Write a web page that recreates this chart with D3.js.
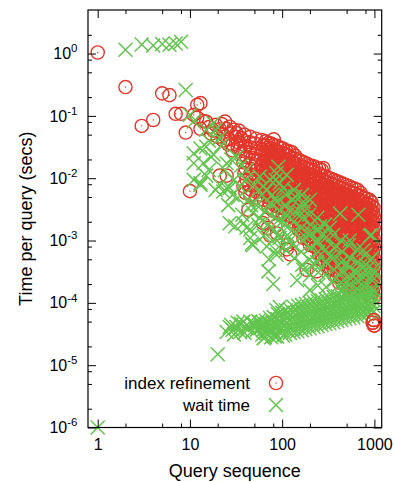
<!DOCTYPE html>
<html>
<head>
<meta charset="utf-8">
<script src="https://cdn.jsdelivr.net/npm/d3@7"></script>
<style>
  body { margin: 0; background: #fff; }
  text { font-family: "Liberation Sans", Arial, Helvetica, sans-serif; fill: #000; }
</style>
</head>
<body>
<div id="chart"></div>
<script>
// axis ticks
const xMajorTicks = [1, 10, 100, 1000];
const xMinorTicks = [2, 5, 8, 20, 50, 80, 200, 500, 800];
const yMajorTicks = [1e-6, 1e-5, 1e-4, 1e-3, 1e-2, 1e-1, 1];
const yMajorExponents = ['-6', '-5', '-4', '-3', '-2', '-1', '0'];
const yMinorTicks = [2e-6, 5e-6, 8e-6, 2e-5, 5e-5, 8e-5, 2e-4, 5e-4, 8e-4, 2e-3, 5e-3, 8e-3,
  2e-2, 5e-2, 8e-2, 0.2, 0.5, 0.8, 2];

const seriesNames = ['index refinement', 'wait time'];

// [query number, seconds]
const refinePoints = [
  [1,1.04],[2,0.29],[3,0.069],[4,0.086],[5,0.23],[6,0.215],[7,0.108],[8,0.108],[9,0.054],[10,0.0062],[11,0.104],[12,0.15],
  [12,0.094],[13,0.16],[13,0.062],[14,0.083],[15,0.081],[16,0.066],[17,0.052],[18,0.058],[19,0.072],[20,0.046],[21,0.061],[21,0.011],
  [22,0.074],[23,0.05],[23,0.04],[24,0.081],[25,0.062],[25,0.011],[26,0.042],[26,0.035],[27,0.067],[28,0.052],[29,0.035],[29,0.028],
  [30,0.06],[31,0.046],[32,0.053],[33,0.038],[33,0.031],[34,0.058],[35,0.03],[36,0.044],[37,0.024],
  [39,0.05],[38,0.04],[40,0.033],[39,0.027],[41,0.022],[38,0.018],[40,0.0145],[39,0.012],[41,0.0095],[38,0.0075],[40,0.0058],
  [45,0.046],[44,0.038],[46,0.031],[45,0.026],[47,0.021],[44,0.017],[46,0.014],[45,0.0115],[47,0.0094],[44,0.0078],[46,0.0065],[45,0.0054],[43,0.0031],
  [52,0.043],[51,0.036],[53,0.03],[52,0.024],[54,0.02],[51,0.016],[53,0.0135],[52,0.011],[54,0.0089],[51,0.0073],[53,0.006],[52,0.0049],
  [60,0.041],[62,0.034],[61,0.029],[59,0.024],[63,0.019],[60,0.016],[62,0.014],[61,0.011],[60,0.0092],[62,0.0079],[61,0.0065],[59,0.0054],[63,0.0045],
  [66,0.039],[66,0.033],[66,0.027],[66,0.023],[66,0.019],[66,0.0156],[66,0.013],[66,0.0108],[66,0.009],[66,0.0075],[66,0.0062],
  [71,0.037],[70,0.031],[72,0.026],[69,0.022],[71,0.018],[73,0.015],[70,0.012],[72,0.0101],[71,0.0085],[69,0.0072],[72,0.006],[70,0.0049],[73,0.0041],[71,0.0034],
  [76,0.036],[76,0.03],[76,0.025],[76,0.0206],[76,0.017],[76,0.0143],[76,0.0119],[76,0.0098],[76,0.0082],[76,0.0068],[76,0.0057],[76,0.0047],
  [81,0.042],[80,0.034],[83,0.028],[79,0.024],[82,0.02],[80,0.016],[84,0.014],[81,0.011],[79,0.0094],[83,0.0077],[80,0.0066],[82,0.0053],[81,0.0045],[84,0.0036],[80,0.003],
  [88,0.033],[88,0.027],[88,0.023],[88,0.019],[88,0.0156],[88,0.013],[88,0.0108],[88,0.009],[88,0.0075],[88,0.0062],[88,0.0052],[88,0.0043],[88,0.0036],
  [95,0.031],[93,0.026],[97,0.021],[94,0.018],[96,0.015],[92,0.012],[95,0.01],[98,0.0087],[93,0.007],[96,0.0059],[94,0.0049],[97,0.0041],[95,0.0034],[93,0.0028],
  [102,0.03],[102,0.025],[102,0.0206],[102,0.017],[102,0.0143],[102,0.0119],[102,0.0098],[102,0.0082],[102,0.0068],[102,0.0057],[102,0.0047],[102,0.0039],[102,0.0033],[102,0.0027],
  [110,0.028],[108,0.024],[112,0.02],[109,0.016],[111,0.014],[107,0.011],[113,0.0093],[110,0.0078],[108,0.0065],[112,0.0054],[109,0.0045],[111,0.0037],[110,0.0031],[108,0.0026],
  [119,0.027],[119,0.023],[119,0.019],[119,0.0156],[119,0.013],[119,0.0108],[119,0.009],[119,0.0075],[119,0.0062],[119,0.0052],[119,0.0043],[119,0.0036],[119,0.003],[119,0.0025],
  [128,0.026],[126,0.021],[130,0.018],[127,0.015],[131,0.012],[125,0.0102],[129,0.0086],[128,0.0071],[126,0.0059],[130,0.0049],[127,0.0041],[132,0.0034],[128,0.0028],[125,0.0024],[129,0.002],
  [138,0.023],[138,0.0206],[138,0.017],[138,0.0143],[138,0.0119],[138,0.0098],[138,0.0082],[138,0.0068],[138,0.0057],[138,0.0047],[138,0.0039],[138,0.0033],[138,0.0027],[138,0.0023],[138,0.0019],
  [149,0.02],[147,0.016],[151,0.014],[146,0.011],[152,0.0093],[148,0.0078],[150,0.0064],[147,0.0054],[153,0.0045],[149,0.0037],[146,0.0031],[151,0.0026],[148,0.0021],[152,0.0018],[150,0.0015],
  [160,0.0188],[160,0.0156],[160,0.013],[160,0.0108],[160,0.009],[160,0.0075],[160,0.0062],[160,0.0052],[160,0.0043],[160,0.0036],[160,0.003],[160,0.0025],[160,0.0021],[160,0.0017],[160,0.00142],
  [172,0.018],[170,0.015],[175,0.012],[169,0.0103],[174,0.0086],[171,0.0071],[168,0.0059],[173,0.0049],[170,0.0041],[176,0.0034],[172,0.0028],[169,0.0024],[174,0.002],[171,0.0016],[173,0.0014],[170,0.0011],
  [186,0.0171],[186,0.0143],[186,0.0119],[186,0.0098],[186,0.0082],[186,0.0068],[186,0.0057],[186,0.0047],[186,0.0039],[186,0.0033],[186,0.0027],[186,0.0023],[186,0.0019],[186,0.0016],[186,0.0013],[186,0.00108],
  [200,0.016],[197,0.014],[203,0.011],[199,0.0094],[204,0.0078],[196,0.0065],[201,0.0054],[198,0.0045],[205,0.0037],[200,0.0031],[197,0.0026],[202,0.0021],[199,0.0018],[203,0.0015],[198,0.0012],[201,0.001],[200,0.00085],
  [216,0.0156],[216,0.013],[216,0.0108],[216,0.009],[216,0.0075],[216,0.0062],[216,0.0052],[216,0.0043],[216,0.0036],[216,0.003],[216,0.0025],[216,0.0021],[216,0.0017],[216,0.00142],[216,0.00118],[216,0.00098],[216,0.00082],
  [232,0.015],[229,0.012],[235,0.01],[231,0.0086],[236,0.0071],[228,0.0059],[233,0.0049],[230,0.0041],[237,0.0034],[232,0.0028],[229,0.0024],[234,0.002],[231,0.0016],[235,0.0014],[230,0.0011],[233,0.00094],[231,0.00078],
  [251,0.0143],[251,0.0119],[251,0.0098],[251,0.0082],[251,0.0068],[251,0.0057],[251,0.0047],[251,0.0039],[251,0.0033],[251,0.0027],[251,0.0023],[251,0.0019],[251,0.0016],[251,0.0013],[251,0.00108],[251,0.0009],[251,0.00075],[251,0.00062],
  [280,0.0145],[269,0.0135],[266,0.011],[272,0.0094],[268,0.0078],[274,0.0065],[265,0.0054],[270,0.0045],[267,0.0037],[273,0.0031],[269,0.0026],[266,0.0021],[271,0.0018],[268,0.0015],[274,0.0012],[270,0.001],[267,0.00085],[272,0.00071],[269,0.00059],[271,0.00049],
  [290,0.0108],[290,0.009],[290,0.0075],[290,0.0062],[290,0.0052],[290,0.0043],[290,0.0036],[290,0.003],[290,0.0025],[290,0.0021],[290,0.0017],[290,0.00142],[290,0.00118],[290,0.00098],[290,0.00082],[290,0.00068],[290,0.00057],[290,0.00047],
  [312,0.0103],[309,0.0086],[315,0.0071],[310,0.0059],[316,0.0049],[308,0.0041],[313,0.0034],[311,0.0028],[317,0.0024],[309,0.002],[314,0.0016],[312,0.0014],[310,0.0011],[315,0.00094],[311,0.00078],[313,0.00065],[308,0.00054],[312,0.00045],[316,0.00037],
  [337,0.0098],[337,0.0082],[337,0.0068],[337,0.0057],[337,0.0047],[337,0.0039],[337,0.0033],[337,0.0027],[337,0.0023],[337,0.0019],[337,0.0016],[337,0.0013],[337,0.00108],[337,0.0009],[337,0.00075],[337,0.00062],[337,0.00052],[337,0.00043],[337,0.00036],
  [362,0.0094],[358,0.0078],[366,0.0065],[360,0.0054],[365,0.0045],[357,0.0037],[363,0.0031],[359,0.0026],[367,0.0021],[361,0.0018],[364,0.0015],[358,0.0012],[362,0.001],[366,0.00085],[360,0.00071],[363,0.00059],[359,0.00049],[365,0.00041],[361,0.00034],[364,0.00028],
  [390,0.009],[390,0.0075],[390,0.0062],[390,0.0052],[390,0.0043],[390,0.0036],[390,0.003],[390,0.0025],[390,0.0021],[390,0.0017],[390,0.00142],[390,0.00118],[390,0.00098],[390,0.00082],[390,0.00068],[390,0.00057],[390,0.00047],[390,0.00039],[390,0.00032],[390,0.00027],
  [420,0.0086],[415,0.0071],[425,0.0059],[418,0.0049],[423,0.0041],[413,0.0034],[421,0.0028],[417,0.0024],[426,0.002],[419,0.0016],[422,0.0014],[414,0.0011],[420,0.00094],[424,0.00078],[416,0.00065],[421,0.00054],[418,0.00045],[425,0.00037],[419,0.00031],[422,0.00026],[417,0.00021],
  [453,0.0082],[453,0.0068],[453,0.0057],[453,0.0047],[453,0.0039],[453,0.0033],[453,0.0027],[453,0.0023],[453,0.0019],[453,0.0016],[453,0.0013],[453,0.00108],[453,0.0009],[453,0.00075],[453,0.00062],[453,0.00052],[453,0.00043],[453,0.00036],[453,0.0003],[453,0.00025],[453,0.00021],
  [488,0.0078],[482,0.0065],[494,0.0054],[485,0.0045],[491,0.0037],[480,0.0031],[489,0.0026],[486,0.0021],[495,0.0018],[483,0.0015],[490,0.0012],[487,0.001],[492,0.00085],[481,0.00071],[489,0.00059],[485,0.00049],[493,0.00041],[484,0.00034],[490,0.00028],[487,0.00023],[491,0.00019],
  [526,0.0075],[526,0.0062],[526,0.0052],[526,0.0043],[526,0.0036],[526,0.003],[526,0.0025],[526,0.0021],[526,0.0017],[526,0.00142],[526,0.00118],[526,0.00098],[526,0.00082],[526,0.00068],[526,0.00057],[526,0.00047],[526,0.00039],[526,0.00032],[526,0.00027],[526,0.00022],[526,0.00019],
  [567,0.0071],[560,0.0059],[574,0.0049],[563,0.0041],[571,0.0034],[558,0.0028],[569,0.0024],[565,0.002],[576,0.0016],[561,0.0014],[570,0.0011],[566,0.00094],[573,0.00078],[559,0.00065],[568,0.00054],[564,0.00045],[572,0.00037],[562,0.00031],[569,0.00026],[566,0.00021],[571,0.00018],
  [611,0.0068],[611,0.0057],[611,0.0047],[611,0.0039],[611,0.0033],[611,0.0027],[611,0.0023],[611,0.0019],[611,0.0016],[611,0.0013],[611,0.00108],[611,0.0009],[611,0.00075],[611,0.00062],[611,0.00052],[611,0.00043],[611,0.00036],[611,0.0003],[611,0.00025],[611,0.00021],[611,0.00017],
  [657,0.0065],[650,0.0054],[665,0.0045],[653,0.0037],[661,0.0031],[647,0.0026],[659,0.0021],[655,0.0018],[668,0.0015],[651,0.0012],[662,0.001],[656,0.00085],[664,0.00071],[649,0.00059],[658,0.00049],[654,0.00041],[663,0.00034],[652,0.00028],[660,0.00023],[657,0.00019],[666,0.00016],
  [708,0.0058],[708,0.0052],[708,0.0043],[708,0.0036],[708,0.003],[708,0.0025],[708,0.0021],[708,0.0017],[708,0.00142],[708,0.00118],[708,0.00098],[708,0.00082],[708,0.00068],[708,0.00057],[708,0.00047],[708,0.00039],[708,0.00032],[708,0.00027],[708,0.00022],[708,0.00019],[708,0.000155],
  [762,0.0049],[754,0.0041],[770,0.0034],[758,0.0028],[766,0.0024],[750,0.002],[764,0.0016],[759,0.0014],[773,0.0011],[755,0.00094],[767,0.00078],[761,0.00065],[769,0.00054],[752,0.00045],[763,0.00037],[757,0.00031],[768,0.00026],[756,0.00021],[765,0.00018],[760,0.00015],
  [822,0.0047],[822,0.0039],[822,0.0033],[822,0.0027],[822,0.0023],[822,0.0019],[822,0.0016],[822,0.0013],[822,0.00108],[822,0.0009],[822,0.00075],[822,0.00062],[822,0.00052],[822,0.00043],[822,0.00036],[822,0.0003],[822,0.00025],[822,0.00021],[822,0.00017],[822,0.00014],
  [884,0.0045],[875,0.0037],[893,0.0031],[880,0.0026],[889,0.0021],[871,0.0018],[886,0.0015],[878,0.0012],[895,0.001],[873,0.00085],[888,0.00071],[882,0.00059],[891,0.00049],[876,0.00041],[885,0.00034],[879,0.00028],[892,0.00023],[877,0.00019],[887,0.00016],[883,0.00013],
  [930,0.0041],[930,0.0036],[930,0.003],[930,0.0025],[930,0.0021],[930,0.0017],[930,0.00142],[930,0.00118],[930,0.00098],[930,0.00082],[930,0.00068],[930,0.00057],[930,0.00047],[930,0.00039],[930,0.00032],[930,0.00027],[930,0.00022],[930,0.00019],[930,0.000155],[930,0.00013],
  [976,0.0034],[968,0.0028],[990,0.0024],[972,0.002],[985,0.0016],[962,0.0014],[980,0.0011],[970,0.00094],[995,0.00078],[966,0.00065],[983,0.00054],[974,0.00045],[988,0.00037],[964,0.00031],[979,0.00026],[971,0.00021],[986,0.00018],[967,0.00015],[981,0.00012],
  [62,0.0019],[70,0.0016],[74,0.0012],[85,0.0017],[88,0.0013],[112,0.00072],[115,0.00085],[122,0.0006],[184,0.00034],[237,0.00032],
  [960,4.8e-5],[985,5.3e-5],[995,4.3e-5]
];

const waitPoints = [
  [1,1e-6],[2,1.15],[3,1.4],[4,1.35],[5,1.42],[6,1.38],[7,1.45],[8,1.55],[9,0.26],
  [10,0.104],[11,0.081],[11,0.025],[11,0.0174],[11,0.0094],[13,0.03],[13,0.0083],[13,0.0078],[14,0.0174],[15,0.06],[15,0.032],[15,0.011],
  [16,0.04],[16,0.0135],[17,0.022],[18,0.076],[18,0.024],[19,0.06],[19,0.0065],[21,0.044],[21,0.0078],[22,0.034],[23,0.0061],[24,0.0135],
  [25,0.0174],[25,0.0069],[26,0.0037],[27,0.007],[27,0.0019],[28,0.02],[29,0.0054],[30,0.0094],[31,0.0017],[32,0.022],[33,0.0048],[35,0.0073],
  [36,0.016],[37,0.0026],[38,0.0019],[40,0.0094],[41,0.0135],[41,0.0016],[43,0.0045],[45,0.0015],[45,0.0011],[46,0.0037],[47,0.00089],
  [48,0.00084],[48,0.0028],[50,0.0078],[53,0.0037],[55,0.0018],[57,0.0023],[57,0.0106],[60,0.0054],[62,0.0074],[63,0.0012],[66,0.003],
  [68,0.0065],[68,0.0008],[70,0.0018],[71,0.00032],[72,0.0005],[74,0.0094],[74,0.004],[76,0.0026],[78,0.0054],[78,0.001],[80,0.0002],
  [82,0.0015],[84,0.0045],[85,0.0094],[85,0.0007],[87,0.012],[87,0.0042],[87,0.00059],[87,7.6e-5],[90,0.0021],[91,0.0153],[92,0.0012],
  [94,0.0083],[94,0.003],[94,0.0011],[94,8.6e-5],
  [102,0.0021],[102,0.0008],[103,0.0069],[112,0.0113],[117,0.0031],[122,0.001],[138,0.0051],[145,0.00023],[155,0.0029],[170,0.0042],
  [170,0.00123],[170,0.00034],[185,0.0033],[200,0.0014],[200,0.00016],[220,0.00043],[237,0.0009],[258,0.0017],[265,0.00123],[330,0.0016],
  [330,0.00055],[390,0.0008],[425,0.0027],[500,0.00043],[540,0.001],[670,0.0026],[700,0.00039],[760,0.0007],[900,0.0012],[900,0.00049],[930,0.00123],
  [110,0.0054],[108,0.0037],[112,0.0026],[106,0.0018],[114,0.00123],[110,0.0007],
  [134,0.0065],[131,0.0045],[137,0.0029],[133,0.002],[136,0.0014],[130,0.00085],[135,0.00052],
  [164,0.0054],[160,0.0034],[167,0.0023],[162,0.0016],[166,0.001],[161,0.00066],[165,0.00041],
  [200,0.0045],[196,0.0026],[204,0.0018],[199,0.00123],[203,0.00077],[197,0.00049],[201,0.00028],
  [240,0.0023],[248,0.0015],[242,0.001],[246,0.00066],[239,0.00045],[247,0.00031],[243,0.00019],
  [292,0.0018],[301,0.00113],[295,0.00071],[299,0.00045],[293,0.00028],[300,0.00018],
  [356,0.00123],[367,0.00077],[360,0.00053],[365,0.00034],[358,0.00022],
  [436,0.001],[448,0.00066],[440,0.00045],[446,0.00031],[438,0.00021],[444,0.00016],
  [530,0.00085],[548,0.00052],[535,0.00037],[545,0.00025],[533,0.00019],
  [645,0.00071],[668,0.00045],[650,0.00031],[663,0.00023],[648,0.00017],
  [790,0.00059],[812,0.00041],[795,0.00028],[808,0.0002],
  [945,0.00052],[975,0.00034],[950,0.00023],
  [20,1.5e-5],[25,3.4e-5],[27,4.1e-5],[28,4.4e-5],[29,3.7e-5],[30,3.1e-5],[32,4.1e-5],[33,4.8e-5],[35,3.4e-5],[36,4.6e-5],[38,5e-5],
  [39,3.3e-5],[41,3.9e-5],[43,4.2e-5],[45,5e-5],[47,3.5e-5],[49,4.6e-5],[51,4.4e-5],[53,3.7e-5],[55,5.1e-5],[57,4.8e-5],[59,4e-5],
  [61,4.9e-5],[60,4.2e-5],[62,3.65e-5],[61,3.1e-5],[63,2.7e-5],
  [67,5.1e-5],[66,4.4e-5],[68,3.8e-5],[67,3.3e-5],[65,2.8e-5],
  [74,5.7e-5],[73,4.7e-5],[75,3.9e-5],[74,3.4e-5],[76,2.8e-5],
  [81,5.9e-5],[80,4.9e-5],[82,4.2e-5],[81,3.5e-5],[83,2.9e-5],
  [90,6.6e-5],[89,5.5e-5],[91,4.4e-5],[90,3.65e-5],[88,2.9e-5],
  [100,6.9e-5],[98,5.7e-5],[101,4.7e-5],[100,3.9e-5],[102,3e-5],
  [110,7.6e-5],[109,6.1e-5],[112,4.9e-5],[110,3.9e-5],[108,3.1e-5],
  [122,7.9e-5],[120,6.4e-5],[124,5.3e-5],[122,4.2e-5],[121,3.3e-5],
  [134,8.6e-5],[132,6.9e-5],[136,5.5e-5],[134,4.4e-5],[133,3.4e-5],
  [149,8.9e-5],[147,7.1e-5],[151,5.7e-5],[149,4.6e-5],[146,3.5e-5],
  [164,9.2e-5],[162,7.4e-5],[166,5.9e-5],[164,4.7e-5],[163,3.65e-5],
  [181,9.6e-5],[179,7.6e-5],[184,6.1e-5],[181,4.9e-5],[178,3.8e-5],
  [200,9.9e-5],[197,7.9e-5],[203,6.4e-5],[200,5.1e-5],[198,3.9e-5],
  [221,1.03e-4],[218,8.2e-5],[224,6.6e-5],[221,5.3e-5],[219,4.1e-5],
  [244,1.07e-4],[241,8.6e-5],[247,6.9e-5],[244,5.5e-5],[242,4.2e-5],
  [269,1.1e-4],[266,8.9e-5],[272,7.1e-5],[269,5.7e-5],[267,4.4e-5],
  [297,1.15e-4],[293,9.2e-5],[300,7.4e-5],[297,5.9e-5],[294,4.6e-5],
  [328,1.19e-4],[324,9.6e-5],[332,7.6e-5],[328,6.1e-5],[325,4.7e-5],
  [362,1.24e-4],[358,9.9e-5],[366,7.9e-5],[362,6.4e-5],[359,4.9e-5],
  [400,1.28e-4],[395,1.03e-4],[405,8.2e-5],[400,6.6e-5],[396,5.1e-5],
  [442,1.28e-4],[437,1.07e-4],[447,8.6e-5],[442,6.9e-5],[438,5.3e-5],
  [488,1.33e-4],[482,1.1e-4],[494,8.9e-5],[488,7.1e-5],[484,5.5e-5],
  [539,1.33e-4],[532,1.1e-4],[546,9.2e-5],[539,7.4e-5],[535,5.7e-5],
  [595,1.38e-4],[588,1.15e-4],[602,9.6e-5],[595,7.6e-5],[590,5.9e-5],
  [657,1.38e-4],[649,1.15e-4],[665,9.6e-5],[657,7.6e-5],[652,6.1e-5],
  [725,1.44e-4],[716,1.19e-4],[734,9.9e-5],[725,7.9e-5],[720,6.4e-5],
  [800,1.49e-4],[790,1.24e-4],[810,1.03e-4],[800,8.2e-5],[794,6.6e-5],
  [884,1.55e-4],[873,1.28e-4],[895,1.07e-4],[884,8.6e-5],[877,6.9e-5],
  [976,1.6e-4],[965,1.33e-4],[990,1.1e-4],[976,8.9e-5],[970,7.1e-5],
  [420,2e-4],[515,2.2e-4],[625,2.4e-4],[762,2.6e-4],[930,2.7e-4],[450,3.4e-4],[600,3.2e-4],[830,3.5e-4],[990,3e-4]
];

const svgWidth = 395;
const svgHeight = 482;
const margin = { top: 10, right: 13.3, bottom: 54.5, left: 88 };
const width = svgWidth - margin.left - margin.right;
const height = svgHeight - margin.top - margin.bottom;

const red = '#e2372b';
const green = '#62c54e';
const crossPath = 'M-7,-7L7,7M-7,7L7,-7';

const svg = d3.select('#chart').append('svg')
  .attr('width', svgWidth)
  .attr('height', svgHeight);

const chart = svg.append('g')
  .attr('transform', 'translate(' + margin.left + ',' + margin.top + ')');

const xScale = d3.scaleLog().domain([0.785, 1200]).range([0, width]);
const yScale = d3.scaleLog().domain([1e-6, 5]).range([height, 0]);

function drawRings(data) {
  const g = chart.append('g');
  g.selectAll('circle')
    .data(data)
    .enter()
    .append('circle')
    .attr('cx', d => xScale(d[0]))
    .attr('cy', d => yScale(d[1]))
    .attr('r', 6.6)
    .attr('fill', 'none')
    .attr('stroke', red)
    .attr('stroke-width', 1.4);
  g.selectAll('rect')
    .data(data)
    .enter()
    .append('rect')
    .attr('x', d => xScale(d[0]) - 0.6)
    .attr('y', d => yScale(d[1]) - 0.6)
    .attr('width', 1.2)
    .attr('height', 1.2)
    .attr('fill', red);
}

// red first, green crosses on top, the few lowest red rings come out on top again
drawRings(refinePoints);

chart.append('g').selectAll('path')
  .data(waitPoints)
  .enter()
  .append('path')
  .attr('d', crossPath)
  .attr('transform', d => 'translate(' + xScale(d[0]) + ',' + yScale(d[1]) + ')')
  .attr('fill', 'none')
  .attr('stroke', green)
  .attr('stroke-width', 1.5);

drawRings(refinePoints.filter(d => d[1] < 6e-5));

// ticks on all four sides, pointing inwards
function tickGroup(axis, transform) {
  const g = chart.append('g').attr('transform', transform).call(axis);
  g.select('.domain').remove();
  g.selectAll('.tick line').attr('stroke', '#000').attr('stroke-width', 1);
  g.attr('font-family', null).attr('font-size', 16);
  return g;
}

tickGroup(d3.axisBottom(xScale).tickValues(xMajorTicks).tickSize(-8).tickPadding(11)
  .tickFormat(d3.format('d')), 'translate(0,' + height + ')');
tickGroup(d3.axisBottom(xScale).tickValues(xMinorTicks).tickSize(-4).tickFormat(''),
  'translate(0,' + height + ')');
tickGroup(d3.axisTop(xScale).tickValues(xMajorTicks).tickSize(-8).tickFormat(''), 'translate(0,0)');
tickGroup(d3.axisTop(xScale).tickValues(xMinorTicks).tickSize(-4).tickFormat(''), 'translate(0,0)');

const yAxisG = tickGroup(d3.axisLeft(yScale).tickValues(yMajorTicks).tickSize(-8).tickPadding(10.5)
  .tickFormat(''), 'translate(0,0)');
tickGroup(d3.axisLeft(yScale).tickValues(yMinorTicks).tickSize(-4).tickFormat(''), 'translate(0,0)');
tickGroup(d3.axisRight(yScale).tickValues(yMajorTicks).tickSize(-8).tickFormat(''),
  'translate(' + width + ',0)');
tickGroup(d3.axisRight(yScale).tickValues(yMinorTicks).tickSize(-4).tickFormat(''),
  'translate(' + width + ',0)');

// 10 with a raised exponent
yAxisG.selectAll('.tick text').each(function(d, i) {
  const t = d3.select(this);
  t.append('tspan').text('10');
  t.append('tspan').attr('dy', -6.8).attr('font-size', 11.5).text(yMajorExponents[i]);
});

chart.append('rect')
  .attr('width', width)
  .attr('height', height)
  .attr('fill', 'none')
  .attr('stroke', '#000')
  .attr('stroke-width', 1.2);

// axis titles
svg.append('text')
  .attr('x', margin.left + width / 2)
  .attr('y', 476.5)
  .attr('text-anchor', 'middle')
  .attr('font-size', 18)
  .text('Query sequence');

svg.append('text')
  .attr('transform', 'translate(32,' + (margin.top + height / 2) + ') rotate(-90)')
  .attr('text-anchor', 'middle')
  .attr('font-size', 18)
  .text('Time per query (secs)');

// legend
const legend = svg.append('g').attr('font-size', 17);
legend.append('text').attr('x', 250).attr('y', 389).attr('text-anchor', 'end').text(seriesNames[0]);
legend.append('circle').attr('cx', 276).attr('cy', 383).attr('r', 6.6)
  .attr('fill', 'none').attr('stroke', red).attr('stroke-width', 1.4);
legend.append('rect').attr('x', 275.4).attr('y', 382.4).attr('width', 1.2).attr('height', 1.2).attr('fill', red);
legend.append('text').attr('x', 250).attr('y', 411).attr('text-anchor', 'end').text(seriesNames[1]);
legend.append('path').attr('d', crossPath).attr('transform', 'translate(276,405)')
  .attr('fill', 'none').attr('stroke', green).attr('stroke-width', 1.5);
</script>
</body>
</html>
